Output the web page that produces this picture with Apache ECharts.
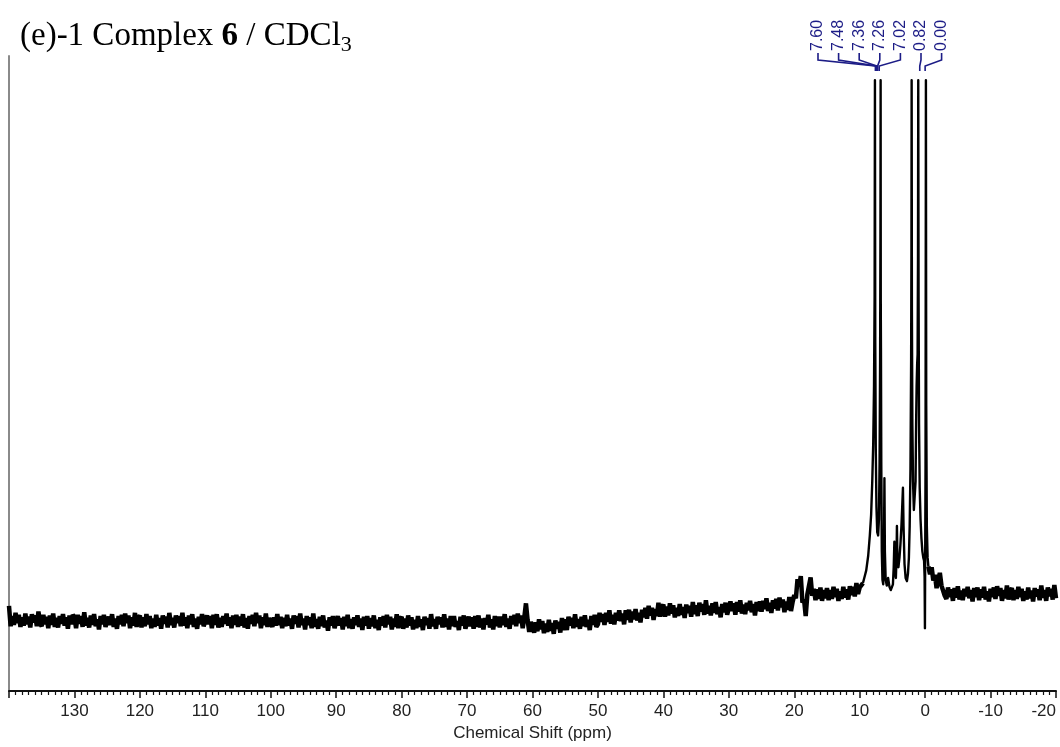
<!DOCTYPE html>
<html>
<head>
<meta charset="utf-8">
<script src="https://cdn.jsdelivr.net/npm/echarts@6/dist/echarts.min.js"></script>
<style>
html,body{margin:0;padding:0;background:#fff;}
#chart{width:1060px;height:747px;}
</style>
</head>
<body>
<div id="chart"></div>
<script>
// ---------------- data ----------------
// x tick range (ppm), axis reversed
const xMin = -20, xMax = 140, xStep = 10;

// baseline noise, left part: 140 ppm down to 9.5 ppm, every 0.25 ppm
const noiseLeftStart = 140, noiseStep = 0.25;
const noiseLeft = [
  13.4, 10.2, 11.8, 10.4, 12.3, 10.7, 12.0, 10.1, 11.6, 10.3, 12.2, 10.5, 11.7, 10.0, 12.1, 10.8, 11.9, 10.2, 12.5, 10.6,
  10.2, 12.0, 10.5, 11.7, 9.9, 11.9, 10.4, 12.2, 10.1, 11.5, 10.0, 11.8, 10.6, 12.1, 10.3, 11.6, 9.8, 11.9, 10.5, 12.0,
  11.6, 9.9, 12.0, 10.6, 11.8, 10.1, 12.4, 10.3, 11.5, 10.0, 11.9, 10.4, 12.1, 10.2, 11.3, 9.7, 11.8, 10.5, 12.0, 10.1,
  10.0, 11.7, 10.4, 12.1, 10.1, 11.4, 9.8, 11.8, 10.5, 12.0, 10.2, 12.2, 10.7, 11.9, 9.9, 11.6, 10.3, 12.3, 10.1, 11.5,
  11.9, 10.0, 11.6, 10.2, 12.1, 10.5, 11.8, 9.9, 11.4, 10.1, 12.0, 10.3, 11.5, 9.8, 11.9, 10.6, 11.7, 10.0, 12.3, 10.4,
  11.5, 10.0, 11.9, 10.7, 11.8, 10.2, 12.3, 10.3, 11.6, 9.9, 11.9, 10.5, 12.1, 10.1, 11.4, 9.8, 11.7, 10.5, 12.1, 10.2,
  10.3, 11.9, 10.5, 11.8, 9.9, 12.0, 10.4, 12.1, 10.0, 11.5, 10.1, 11.8, 10.6, 12.2, 10.3, 11.6, 9.9, 11.9, 10.4, 12.0,
  10.1, 11.7, 10.3, 12.1, 10.0, 11.5, 9.8, 11.8, 10.6, 12.0, 10.2, 12.3, 10.7, 11.9, 9.9, 11.6, 10.4, 12.2, 10.1, 11.5,
  11.8, 10.1, 11.6, 10.3, 12.1, 10.4, 11.7, 9.9, 11.5, 10.2, 12.0, 10.3, 11.4, 9.8, 11.9, 10.6, 11.8, 10.0, 12.2, 10.4,
  11.4, 9.7, 11.8, 10.4, 11.6, 9.9, 12.2, 10.1, 11.3, 9.8, 11.7, 10.2, 11.9, 10.0, 11.1, 9.5, 11.6, 10.3, 11.8, 9.9,
  10.0, 11.8, 10.3, 11.5, 9.7, 11.7, 10.2, 12.0, 9.9, 11.3, 9.8, 11.6, 10.4, 11.9, 10.1, 11.4, 9.6, 11.7, 10.3, 11.8,
  9.8, 11.5, 10.2, 11.9, 9.9, 11.2, 9.6, 11.6, 10.3, 11.8, 10.0, 12.0, 10.5, 11.7, 9.7, 11.4, 10.1, 12.1, 9.9, 11.3,
  11.7, 9.8, 11.4, 10.0, 11.9, 10.3, 11.6, 9.7, 11.2, 9.9, 11.8, 10.1, 11.3, 9.6, 11.7, 10.4, 11.5, 9.8, 12.1, 10.2,
  11.3, 9.8, 11.7, 10.5, 11.6, 10.0, 12.1, 10.1, 11.4, 9.7, 11.8, 10.2, 11.8, 10.1, 11.0, 9.6, 11.7, 10.3, 11.9, 9.8,
  10.1, 11.7, 10.2, 11.6, 9.8, 11.8, 10.1, 11.9, 10.0, 11.4, 9.7, 11.5, 10.5, 12.0, 10.0, 11.3, 9.7, 11.8, 10.2, 11.7,
  10.0, 11.7, 10.4, 12.1, 10.1, 11.4, 9.8, 11.8, 10.5, 12.0, 10.2, 12.2, 10.7, 11.9, 9.9, 11.6, 13.8, 11.2, 9.3, 10.9,
  11.1, 9.2, 10.8, 9.4, 11.3, 9.7, 11.0, 9.1, 10.6, 9.3, 11.2, 9.5, 10.7, 9.0, 11.1, 9.8, 10.9, 9.2, 11.5, 9.6,
  11.3, 9.6, 11.7, 10.3, 11.5, 9.9, 12.1, 10.1, 11.3, 9.8, 11.7, 10.2, 11.9, 10.1, 11.2, 9.6, 11.8, 10.4, 12.0, 10.1,
  10.5, 12.3, 10.9, 12.1, 10.4, 12.3, 10.9, 12.7, 10.6, 12.0, 10.5, 12.3, 11.1, 12.7, 11.0, 12.2, 10.5, 12.7, 11.2, 12.8,
  10.8, 12.5, 11.3, 12.9, 11.1, 12.3, 10.8, 12.8, 11.6, 13.1, 11.4, 13.4, 11.9, 13.1, 11.2, 12.9, 11.8, 13.9, 11.7, 13.1,
  13.6, 11.7, 13.3, 11.9, 13.8, 12.2, 13.5, 11.6, 13.1, 11.8, 13.7, 12.0, 13.2, 11.5, 13.6, 12.3, 13.4, 11.7, 14.0, 12.1,
  13.5, 11.8, 13.9, 12.5, 13.7, 12.0, 14.3, 12.2, 13.4, 11.9, 13.8, 12.3, 14.0, 12.1, 13.2, 11.6, 13.7, 12.4, 13.9, 12.0,
  12.3, 14.1, 12.6, 13.8, 12.0, 14.0, 12.5, 14.3, 12.2, 13.6, 12.1, 13.9, 12.7, 14.2, 12.4, 13.7, 11.9, 14.0, 12.6, 14.1,
  12.5, 14.2, 12.9, 14.6, 12.6, 13.9, 12.3, 14.3, 13.0, 14.5, 12.7, 14.7, 13.2, 14.4, 12.4, 14.1, 12.8, 14.8, 12.6, 14.0,
  15.1, 14.6, 17.6, 16.5, 18.1, 13.9, 14.4, 11.8, 15.2, 15.4, 17.9, 15.0, 16.1, 14.3, 16.0, 14.5, 16.3, 14.2, 15.9, 14.6,
  16.2, 14.3, 15.9, 14.5, 16.4, 14.8, 16.1, 14.2, 15.7, 14.5, 16.4, 14.7, 16.0, 14.4, 16.5, 15.1, 16.4, 14.9, 17.0, 15.3,
  16.3, 16.6, 17.0
];

// baseline noise, right part: -0.5 ppm down to -20 ppm, every 0.25 ppm
const noiseRightStart = -0.5;
const noiseRight = [
  19.6, 18.4, 19.5, 17.4, 18.3, 16.2, 17.5, 18.6, 16.6, 16.9, 15.0,
  14.5, 16.3, 14.8, 16.0, 14.2, 16.2, 14.7, 16.5, 14.4, 15.8, 14.3, 16.1, 14.9, 16.4, 14.6, 15.9, 14.1, 16.2, 14.8, 16.3,
  14.3, 16.0, 14.7, 16.4, 14.4, 15.7, 14.1, 16.1, 14.8, 16.3, 14.5, 16.5, 15.0, 16.2, 14.2, 15.9, 14.6, 16.6, 14.4, 15.8,
  16.2, 14.3, 15.9, 14.5, 16.4, 14.8, 16.1, 14.2, 15.7, 14.4, 16.3, 14.6, 15.8, 14.1, 16.2, 14.9, 16.0, 14.3, 16.6, 14.7,
  15.9, 14.2, 16.3, 14.9, 16.1, 14.4, 16.7, 14.6
];

// peak region 9.5 .. -0.5 ppm
const peakShift = [
  9.5, 9.2, 9.0, 8.7, 8.45, 8.25, 8.08, 7.93, 7.81, 7.72, 7.67, 7.62, 7.54, 7.44, 7.32, 7.18, 7.06, 6.96, 6.88, 6.83,
  6.80, 6.78, 6.75, 6.70, 6.62, 6.52, 6.40, 6.30, 6.22, 6.15, 6.03, 5.86, 5.66, 5.45, 5.25, 5.07, 4.92, 4.80, 4.70, 4.60,
  4.47, 4.37, 4.31, 4.22, 4.08, 3.92, 3.78, 3.62, 3.50, 3.39, 3.30, 3.15, 2.98, 2.78, 2.62, 2.48, 2.36, 2.24, 2.14, 2.09,
  2.06, 2.02, 1.95, 1.85, 1.72, 1.58, 1.46, 1.38, 1.30, 1.22, 1.15, 1.09, 1.05, 1.00, 0.93, 0.83, 0.70, 0.56, 0.42, 0.28,
  0.16, 0.08, 0.03, -0.06, -0.12, -0.17, -0.26, -0.38, -0.5
];
const peakIntensity = [
  17.0, 18.2, 19.0, 21.3, 24.5, 27.8, 33, 39, 48, 62, 96.2, 55, 38, 29, 25, 24.5, 27, 36, 52, 72,
  96.2, 61.5, 54, 36, 22, 17.5, 16.8, 21, 33.5, 22, 17.5, 16.6, 17.8, 16.4, 15.9, 15.7, 16.8, 19.5, 23.5, 19,
  17.8, 21, 26, 20, 19.5, 21, 23, 26, 29, 32, 26, 20, 17.8, 17.3, 18.5, 21, 26, 35, 52, 70,
  96.2, 60, 42, 33, 28.5, 28.8, 33, 42, 48, 51.4, 53, 68, 96.2, 62, 42, 32, 27, 24, 22, 21,
  20.5, 18, 9.9, 35, 96.2, 45, 26, 21, 19.6
];

// peak pick labels (ppm)
const peakLabels = [7.60, 7.48, 7.36, 7.26, 7.02, 0.82, 0.00];

const titleText = '{n|(e)-1 Complex }{b|6}{n| / CDCl}{s|3}';
const xAxisName = 'Chemical Shift (ppm)';

// ---------------- build ----------------
const leftData = noiseLeft.map((v, i) => [noiseLeftStart - i * noiseStep, v]);
const rightData = noiseRight.map((v, i) => [noiseRightStart - i * noiseStep, v]);
const peakData = peakShift.map((s, i) => [s, peakIntensity[i]]);

const chart = echarts.init(document.getElementById('chart'), null, {renderer: 'canvas'});
const navy = '#1c1c86';
const serif = 'Liberation Serif';
const sans = 'Liberation Sans';

const option = {
  animation: false,
  backgroundColor: '#ffffff',
  title: {
    text: titleText,
    left: 20,
    top: 16,
    padding: 0,
    textStyle: {
      fontWeight: 'normal',
      rich: {
        n: {fontFamily: serif, fontSize: 33, fontWeight: 'normal', color: '#000', lineHeight: 40, verticalAlign: 'middle'},
        b: {fontFamily: serif, fontSize: 33, fontWeight: 'bold', color: '#000', lineHeight: 40, verticalAlign: 'middle'},
        s: {fontFamily: serif, fontSize: 22, fontWeight: 'normal', color: '#000', lineHeight: 22, verticalAlign: 'bottom'}
      }
    }
  },
  grid: {left: 9, right: 4, top: 56, bottom: 55, containLabel: false},
  xAxis: {
    type: 'value',
    inverse: true,
    min: xMin,
    max: xMax,
    interval: xStep,
    name: xAxisName,
    nameLocation: 'middle',
    nameGap: 34,
    nameTextStyle: {fontFamily: sans, fontSize: 17, color: '#222'},
    axisLine: {show: true, onZero: false, lineStyle: {color: '#111', width: 2}},
    axisTick: {show: true, length: 7, lineStyle: {color: '#111', width: 1.5}},
    minorTick: {show: true, splitNumber: 10, length: 4, lineStyle: {color: '#111', width: 1.2}},
    axisLabel: {
      fontFamily: sans, fontSize: 17, color: '#222', margin: 12,
      showMaxLabel: false, showMinLabel: true, alignMinLabel: 'right'
    },
    splitLine: {show: false},
    minorSplitLine: {show: false}
  },
  yAxis: {
    type: 'value',
    min: 0,
    max: 100,
    axisLine: {show: true, onZero: false, lineStyle: {color: '#8a8a8a', width: 2}},
    axisTick: {show: false},
    axisLabel: {show: false},
    splitLine: {show: false}
  },
  series: [
    {
      name: 'noiseLeft', type: 'line', data: leftData, symbol: 'none', silent: true,
      lineStyle: {color: '#000', width: 4.5, join: 'bevel'}, z: 3
    },
    {
      name: 'noiseRight', type: 'line', data: rightData, symbol: 'none', silent: true,
      lineStyle: {color: '#000', width: 4.5, join: 'bevel'}, z: 3
    },
    {
      name: 'peaks', type: 'line', data: peakData, symbol: 'none', silent: true,
      lineStyle: {color: '#000', width: 2.4, join: 'round'}, z: 4
    }
  ]
};
chart.setOption(option);

// peak labels with connectors, anchored through the x scale
const labelX0 = 818, labelStep = 20.6;
const graphics = [];
peakLabels.forEach((s, i) => {
  const px = chart.convertToPixel({xAxisIndex: 0}, s);
  const tx = labelX0 + i * labelStep;
  graphics.push({
    type: 'text', x: tx, y: 51, rotation: Math.PI / 2,
    style: {text: s.toFixed(2), fontFamily: sans, fontSize: 16, fill: navy, align: 'left', verticalAlign: 'middle'}
  });
  graphics.push({
    type: 'polyline',
    shape: {points: [[tx, 53], [tx, 60], [px, 66], [px, 71]]},
    style: {stroke: navy, lineWidth: 1.6, fill: 'none'}
  });
});
chart.setOption({graphic: graphics});
</script>
</body>
</html>
